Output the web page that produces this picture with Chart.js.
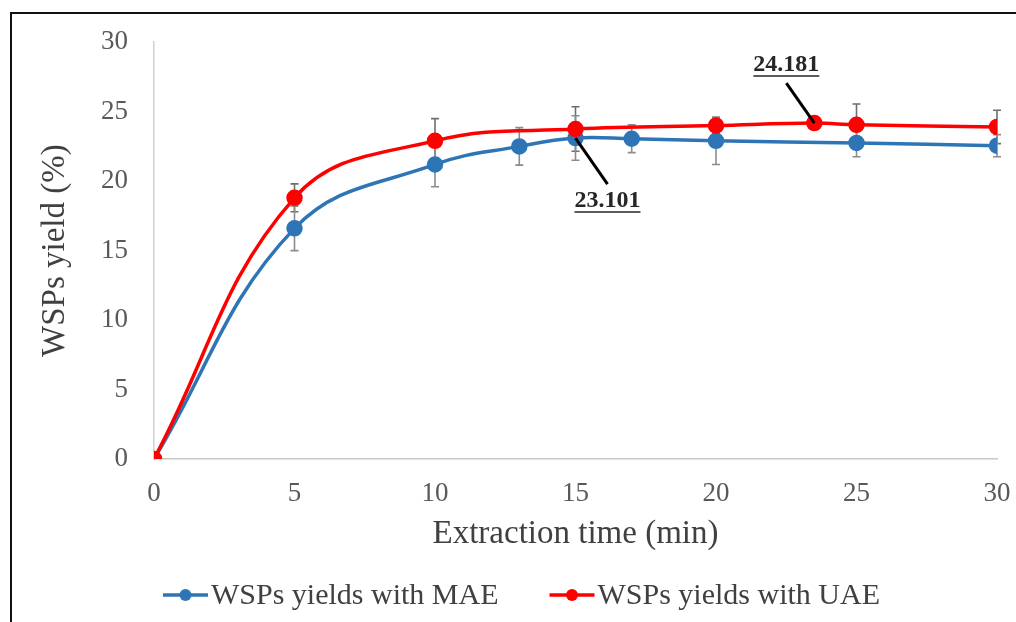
<!DOCTYPE html>
<html><head><meta charset="utf-8">
<script src="https://cdn.jsdelivr.net/npm/chart.js@4.4.1/dist/chart.umd.min.js"></script>
<style>html,body{margin:0;padding:0;background:#fff;} canvas{display:block;}</style>
</head><body>
<canvas id="c" width="1016" height="622"></canvas>
<script>
const maeTimes = [0, 5, 10, 13, 15, 17, 20, 25, 30];
const maeYields = [0, 16.6, 21.2, 22.5, 23.101, 23.05, 22.9, 22.75, 22.55];
const maeErrors = [0, 1.6, 1.6, 1.35, 1.6, 1.0, 1.7, 1.0, 0.8];
const uaeTimes = [0, 5, 10, 15, 20, 23.5, 25, 30];
const uaeYields = [0, 18.8, 22.9, 23.75, 24.0, 24.181, 24.05, 23.9];
const uaeErrors = [0, 1.0, 1.6, 1.6, 0.6, 0, 1.5, 1.2];
const xTickValues = [0, 5, 10, 15, 20, 25, 30];
const yTickValues = [0, 5, 10, 15, 20, 25, 30];
const seriesNames = ['WSPs yields with MAE', 'WSPs yields with UAE'];
const xTitle = 'Extraction time (min)';
const yTitle = 'WSPs yield (%)';
const callouts = [{ series: 'MAE', index: 4, text: '23.101' }, { series: 'UAE', index: 5, text: '24.181' }];

const FONT = "'Liberation Serif', 'Times New Roman', serif";
const toPts = (xs, ys) => xs.map((x, i) => ({ x: x, y: ys[i] }));

const frame = {
  id: 'frame',
  beforeDraw(chart) {
    const ctx = chart.ctx;
    ctx.save();
    ctx.fillStyle = '#fff';
    ctx.fillRect(0, 0, chart.width, chart.height);
    ctx.strokeStyle = '#111';
    ctx.lineWidth = 2;
    ctx.beginPath();
    ctx.moveTo(11, chart.height + 5);
    ctx.lineTo(11, 13);
    ctx.lineTo(chart.width + 5, 13);
    ctx.stroke();
    ctx.restore();
  }
};

const errorBars = {
  id: 'errorBars',
  beforeDatasetsDraw(chart) {
    const ctx = chart.ctx, xs = chart.scales.x, ys = chart.scales.y;
    chart.data.datasets.forEach(ds => {
      const errs = ds.errors;
      if (!errs) return;
      ctx.save();
      ctx.strokeStyle = ds.errorColor;
      ctx.lineWidth = 1.6;
      ds.data.forEach((p, j) => {
        const e = errs[j];
        if (!e) return;
        const x = xs.getPixelForValue(p.x);
        const y1 = ys.getPixelForValue(p.y + e), y2 = ys.getPixelForValue(p.y - e);
        ctx.beginPath();
        ctx.moveTo(x, y1); ctx.lineTo(x, y2);
        ctx.moveTo(x - 4, y1); ctx.lineTo(x + 4, y1);
        ctx.moveTo(x - 4, y2); ctx.lineTo(x + 4, y2);
        ctx.stroke();
      });
      ctx.restore();
    });
  }
};

const calloutPlugin = {
  id: 'callouts',
  afterDatasetsDraw(chart) {
    const ctx = chart.ctx, xs = chart.scales.x, ys = chart.scales.y;
    const offs = [{ lx: 32, ly: 46, tx: 32, ty: 63 }, { lx: -28, ly: -40, tx: -28, ty: -58 }];
    callouts.forEach((c, k) => {
      const ds = chart.data.datasets.find(d => d.key === c.series);
      const p = ds.data[c.index];
      const px = xs.getPixelForValue(p.x), py = ys.getPixelForValue(p.y);
      const o = offs[k];
      ctx.save();
      ctx.strokeStyle = '#000';
      ctx.lineWidth = 3;
      ctx.beginPath();
      ctx.moveTo(px, py);
      ctx.lineTo(px + o.lx, py + o.ly);
      ctx.stroke();
      ctx.font = 'bold 24px ' + FONT;
      ctx.fillStyle = '#262626';
      ctx.textAlign = 'center';
      ctx.textBaseline = 'middle';
      const tx = px + o.tx, ty = py + o.ty;
      ctx.fillText(c.text, tx, ty);
      const w = ctx.measureText(c.text).width;
      ctx.lineWidth = 1.5;
      ctx.strokeStyle = '#262626';
      ctx.beginPath();
      ctx.moveTo(tx - w / 2, ty + 11);
      ctx.lineTo(tx + w / 2, ty + 11);
      ctx.stroke();
      ctx.restore();
    });
  }
};

const legendPlugin = {
  id: 'customLegend',
  afterDraw(chart) {
    const ctx = chart.ctx;
    ctx.save();
    ctx.font = '30px ' + FONT;
    const items = chart.data.datasets.slice().sort((a, b) => a.legendPos - b.legendPos);
    const markW = 45, gapT = 3, gapItem = 51;
    const widths = items.map(d => ctx.measureText(d.label).width);
    let total = 0;
    widths.forEach((w, i) => { total += markW + gapT + w + (i ? gapItem : 0); });
    let x = 521.5 - total / 2;
    const y = 595;
    items.forEach((d, i) => {
      ctx.strokeStyle = d.borderColor;
      ctx.lineWidth = 3.5;
      ctx.beginPath();
      ctx.moveTo(x, y); ctx.lineTo(x + markW, y);
      ctx.stroke();
      ctx.fillStyle = d.pointBackgroundColor;
      ctx.beginPath();
      ctx.arc(x + markW / 2, y, 6, 0, Math.PI * 2);
      ctx.fill();
      ctx.fillStyle = '#404040';
      ctx.textAlign = 'left';
      ctx.textBaseline = 'middle';
      ctx.fillText(d.label, x + markW + gapT, y + 1);
      x += markW + gapT + widths[i] + gapItem;
    });
    ctx.restore();
  }
};

new Chart(document.getElementById('c'), {
  type: 'scatter',
  data: {
    datasets: [
      {
        key: 'UAE', legendPos: 1, label: seriesNames[1], data: toPts(uaeTimes, uaeYields), errors: uaeErrors,
        errorColor: '#6e6e6e', showLine: true, tension: 0.4, borderColor: '#ff0000', backgroundColor: '#ff0000',
        pointBackgroundColor: '#ff0000', pointBorderColor: '#ff0000', pointRadius: 6.5, borderWidth: 3.5, order: 0
      },
      {
        key: 'MAE', legendPos: 0, label: seriesNames[0], data: toPts(maeTimes, maeYields), errors: maeErrors,
        errorColor: '#8c8c8c', showLine: true, tension: 0.4, borderColor: '#2e75b6', backgroundColor: '#2e75b6',
        pointBackgroundColor: '#2e75b6', pointBorderColor: '#2e75b6', pointRadius: 6.5, borderWidth: 3.5, order: 1
      }
    ]
  },
  options: {
    responsive: false,
    animation: false,
    layout: { padding: { left: 10, top: 40, right: 19, bottom: 63 } },
    plugins: { legend: { display: false }, tooltip: { enabled: false } },
    scales: {
      x: {
        type: 'linear', min: 0, max: 30,
        afterBuildTicks: s => { s.ticks = xTickValues.map(v => ({ value: v })); },
        afterFit: s => { s.height = 100; s.paddingLeft = 0; s.paddingRight = 0; },
        grid: { display: false, drawTicks: false },
        border: { display: true, color: '#c8c8c8', width: 1.5 },
        ticks: { font: { family: FONT, size: 27 }, color: '#595959', padding: 19, maxRotation: 0 },
        title: { display: true, text: xTitle, font: { family: FONT, size: 33 }, color: '#404040', padding: { top: 0, bottom: 5 } }
      },
      y: {
        type: 'linear', min: 0, max: 30,
        afterBuildTicks: s => { s.ticks = yTickValues.map(v => ({ value: v })); },
        afterFit: s => { s.width = 144; },
        grid: { display: false, drawTicks: false },
        border: { display: true, color: '#d0d0d0', width: 1.5 },
        ticks: { font: { family: FONT, size: 27 }, color: '#595959', padding: 26 },
        title: { display: true, text: yTitle, font: { family: FONT, size: 33 }, color: '#404040', padding: { top: 26, bottom: 0 } }
      }
    }
  },
  plugins: [frame, errorBars, calloutPlugin, legendPlugin]
});
</script>
</body></html>
